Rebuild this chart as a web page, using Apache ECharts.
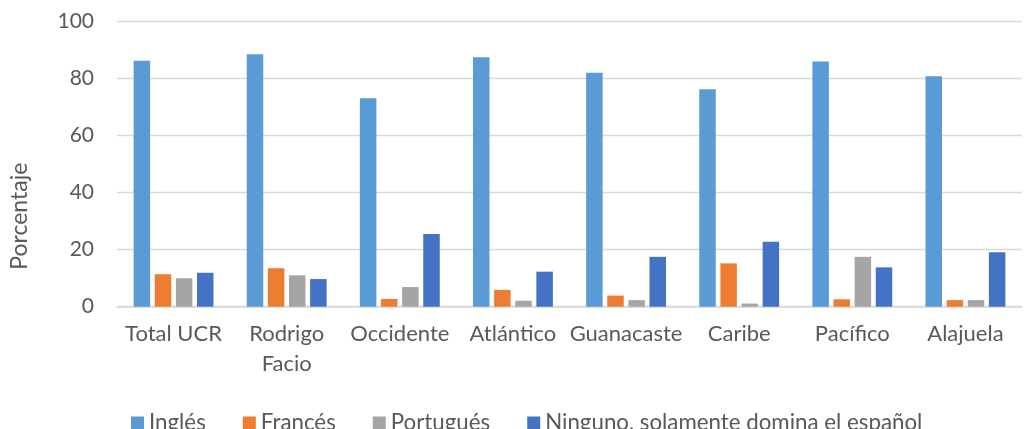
<!DOCTYPE html>
<html>
<head>
<meta charset="utf-8">
<script src="https://cdn.jsdelivr.net/npm/echarts@6/dist/echarts.min.js"></script>
<style>
  html, body { margin: 0; padding: 0; background: #fff; }
  #chart { width: 1024px; height: 429px; }
</style>
</head>
<body>
<div id="chart"></div>
<script>
const categories = ["Total UCR", "Rodrigo\nFacio", "Occidente", "Atlántico", "Guanacaste", "Caribe", "Pacífico", "Alajuela"];
const ingles = [86.3, 88.6, 73.1, 87.5, 82.1, 76.3, 86.0, 80.9];
const frances = [11.4, 13.5, 2.7, 5.9, 3.9, 15.2, 2.6, 2.3];
const portugues = [10.0, 11.0, 6.9, 2.1, 2.3, 1.1, 17.5, 2.3];
const ninguno = [11.9, 9.7, 25.5, 12.3, 17.5, 22.8, 13.8, 19.1];
const seriesNames = ["Inglés", "Francés", "Portugués", "Ninguno, solamente domina el español"];
const colors = ["#5B9BD5", "#ED7D31", "#A5A5A5", "#4472C4"];

const font = "Lato, 'Open Sans', sans-serif";
const myChart = echarts.init(document.getElementById("chart"));

const seriesGroup = [ingles, frances, portugues, ninguno].map((data, i) => ({
  name: seriesNames[i],
  type: "bar",
  data: data,
  barWidth: 16.5,
  barGap: "28%",
  itemStyle: { color: colors[i] },
}));

const option = {
  animation: false,
  textStyle: { fontFamily: font },
  color: colors,
  grid: { left: 117, right: 2, top: 21.7, bottom: 122.3 },
  legend: {
    data: seriesNames,
    left: 131,
    top: 412,
    padding: 0,
    icon: "rect",
    itemWidth: 13,
    itemHeight: 13,
    itemGap: 37,
    textStyle: { fontFamily: font, fontSize: 22.3, color: "#595959", padding: [0, 0, 12, 0] },
  },
  xAxis: {
    type: "category",
    data: categories,
    axisTick: { show: false },
    axisLine: { lineStyle: { color: "#d9d9d9", width: 1.5 } },
    axisLabel: {
      interval: 0,
      margin: 12,
      fontSize: 22,
      lineHeight: 30,
      color: "#595959",
      fontFamily: font,
    },
  },
  yAxis: {
    type: "value",
    min: 0,
    max: 100,
    interval: 20,
    name: "Porcentaje",
    nameLocation: "middle",
    nameGap: 86,
    nameTextStyle: { fontSize: 23, color: "#595959", fontFamily: font, padding: [0, 104, 0, 0] },
    axisLine: { show: false },
    axisTick: { show: false },
    axisLabel: { fontSize: 21, color: "#595959", margin: 23, fontFamily: font },
    splitLine: { lineStyle: { color: "#d9d9d9", width: 1.3 } },
  },
  series: seriesGroup,
};
myChart.setOption(option);
</script>
</body>
</html>
